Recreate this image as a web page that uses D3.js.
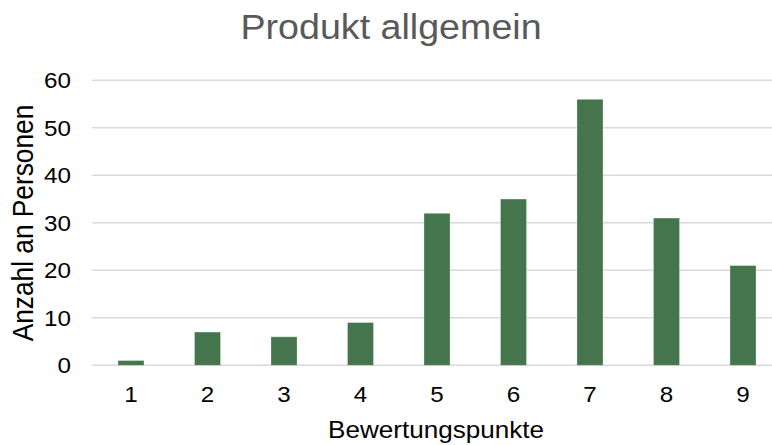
<!DOCTYPE html>
<html><head><meta charset="utf-8">
<script src="https://cdn.jsdelivr.net/npm/d3@7"></script>
<style>html,body{margin:0;padding:0;background:#fff;overflow:hidden}svg{display:block;font-family:"Liberation Sans",Arial,sans-serif}</style>
</head><body><svg id="c" width="772" height="445"></svg>
<script>
const categories = ["1","2","3","4","5","6","7","8","9"];
const values = [1,7,6,9,32,35,56,31,21];
const yTicks = [0,10,20,30,40,50,60];
const title = "Produkt allgemein";
const xTitle = "Bewertungspunkte";
const yTitle = "Anzahl an Personen";

(function () {
const svg = d3.select("#c");
const pL = 92.75, pR = 781.25, pT = 80.3, pB = 365.3;
const x = d3.scaleBand().domain(categories).range([pL, pR]).paddingInner(0.66).paddingOuter(0.33);
const y = d3.scaleLinear().domain([0, 60]).range([pB, pT]);
const SX = 1.1;

// gridlines
svg.append("g").selectAll("line").data(yTicks).join("line")
  .attr("x1", pL - 0.5).attr("x2", pR)
  .attr("y1", d => y(d)).attr("y2", d => y(d))
  .attr("stroke", "#d9d9d9").attr("stroke-width", 1.4);

// bars
svg.append("g").selectAll("rect").data(values).join("rect")
  .attr("x", (d, i) => x(categories[i]))
  .attr("width", x.bandwidth())
  .attr("y", d => y(d))
  .attr("height", d => y(0) - y(d))
  .attr("fill", "#44754c")
  .attr("stroke", "#ffffff").attr("stroke-opacity", 0.35).attr("stroke-width", 0.8);

// y tick labels
svg.append("g").selectAll("text").data(yTicks).join("text")
  .attr("transform", d => `translate(71,${y(d) + 7.9}) scale(${SX},1)`)
  .attr("text-anchor", "end")
  .attr("font-size", 22).attr("fill", "#000")
  .text(d => d);

// x tick labels
svg.append("g").selectAll("text").data(categories).join("text")
  .attr("transform", d => `translate(${x(d) + x.bandwidth() / 2},402.2) scale(${SX},1)`)
  .attr("text-anchor", "middle")
  .attr("font-size", 22).attr("fill", "#000")
  .text(d => d);

// title
svg.append("text")
  .attr("transform", `translate(391,38.7) scale(1.06,1)`)
  .attr("text-anchor", "middle")
  .attr("font-size", 35.5).attr("fill", "#595959")
  .text(title);

// x axis title
svg.append("text")
  .attr("transform", `translate(436,437.5) scale(${SX},1)`)
  .attr("text-anchor", "middle")
  .attr("font-size", 23.7).attr("fill", "#000")
  .text(xTitle);

// y axis title
svg.append("text")
  .attr("transform", `translate(33.3,223) scale(${SX},1) rotate(-90)`)
  .attr("text-anchor", "middle")
  .attr("font-size", 26.3).attr("fill", "#000")
  .text(yTitle);
})();
</script></body></html>
